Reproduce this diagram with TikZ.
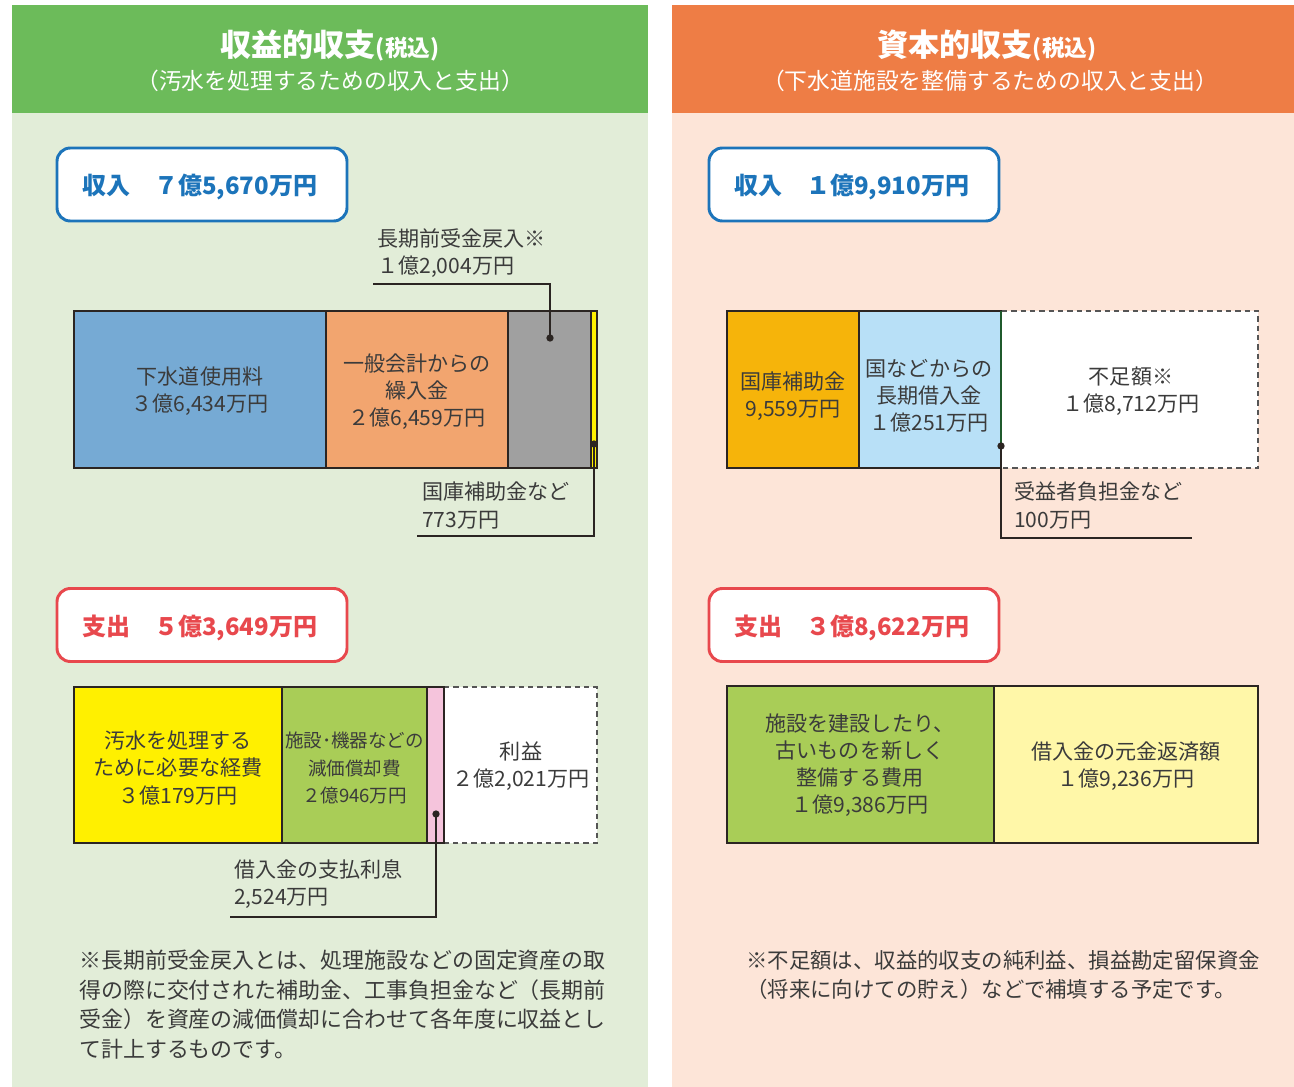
\documentclass[tikz,border=0pt]{standalone}
\usepackage{fontspec}
\setmainfont{Noto Sans CJK JP}
\newfontfamily\jp{Noto Sans CJK JP}
\definecolor{lhead}{HTML}{6CBB5A}
\definecolor{lbg}{HTML}{E2EDD8}
\definecolor{rhead}{HTML}{EE7D45}
\definecolor{rbg}{HTML}{FDE5D8}
\definecolor{cblue}{HTML}{76AAD4}
\definecolor{corange}{HTML}{F2A56F}
\definecolor{cgray}{HTML}{A0A0A0}
\definecolor{cyellow}{HTML}{FFF000}
\definecolor{cgold}{HTML}{F6B40A}
\definecolor{clblue}{HTML}{B8E0F7}
\definecolor{cgreen}{HTML}{A9CD57}
\definecolor{cpink}{HTML}{F5C4DC}
\definecolor{clyellow}{HTML}{FFF7A8}
\definecolor{cdkgreen}{HTML}{1F5A2C}
\definecolor{boxblue}{HTML}{1C74BA}
\definecolor{boxred}{HTML}{E8484D}
\definecolor{txt}{HTML}{3B3B3B}
\definecolor{barline}{HTML}{2B2522}
\definecolor{dashc}{HTML}{555555}
\begin{document}
\begin{tikzpicture}[x=0.75pt,y=-0.75pt,font=\jp,
  bar/.style={draw=barline,line width=1.5pt},
  lbl/.style={text=txt,font=\jp\fontsize{15.8}{20.3}\selectfont,align=center,inner sep=0pt},
  lbls/.style={text=txt,font=\jp\fontsize{13.9}{20.3}\selectfont,align=center,inner sep=0pt},
  lead/.style={draw=barline,line width=1.4pt},
  leaddot/.style={circle,fill=barline,inner sep=0pt,minimum size=5.5pt},
  dashbox/.style={draw=dashc,line width=1.1pt,dash pattern=on 4pt off 3pt},
  title/.style={text=white,font=\jp\bfseries\fontsize{23.3}{26}\selectfont,inner sep=0pt},
  subtitle/.style={text=white,font=\jp\fontsize{17.1}{20}\selectfont,inner sep=0pt},
  sumbox/.style={draw=#1,fill=white,line width=2.2pt,rounded corners=10pt,minimum width=217.5pt,minimum height=54.75pt,inner sep=0pt},
  sumtext/.style={text=#1,font=\jp\bfseries\fontsize{18}{20}\selectfont,inner sep=0pt,anchor=west},
  note/.style={text=txt,font=\jp\fontsize{16.45}{22.1}\selectfont,align=left,inner sep=0pt}
]
\useasboundingbox (0,0) rectangle (1294,1087);
\fill[white] (0,0) rectangle (1294,1087);
% panels
\fill[lbg] (12,5) rectangle (648,1087);
\fill[lhead] (12,5) rectangle (648,113);
\fill[rbg] (672,5) rectangle (1294,1087);
\fill[rhead] (672,5) rectangle (1294,113);
% titles
\node[title] (lt) at (330,46) {収益的収支{\fontsize{17}{17}\selectfont(税込)}};
\node[subtitle] (ls) at (330,81) {（汚水を処理するための収入と支出）};
\node[title] (rt) at (987,46) {資本的収支{\fontsize{17}{17}\selectfont(税込)}};
\node[subtitle] (rs) at (990,81) {（下水道施設を整備するための収入と支出）};
% summary boxes
\node[sumbox=boxblue] (linc) at (202,184.5) {};
\node[sumtext=boxblue] (lincT) at (82,187) {収入　７億5,670万円};
\node[sumbox=boxblue] (rinc) at (854,184.5) {};
\node[sumtext=boxblue] (rincT) at (734,187) {収入　１億9,910万円};
\node[sumbox=boxred] (lexp) at (202,625) {};
\node[sumtext=boxred] (lexpT) at (82,627.5) {支出　５億3,649万円};
\node[sumbox=boxred] (rexp) at (854,625) {};
\node[sumtext=boxred] (rexpT) at (734,627.5) {支出　３億8,622万円};

% ---- left income bar
\draw[bar,fill=cblue] (74,311) rectangle (326,468);
\draw[bar,fill=corange] (326,311) rectangle (508,468);
\draw[bar,fill=cgray] (508,311) rectangle (591,468);
\draw[barline,line width=1.1pt,fill=cyellow] (591,311) rectangle (597,468);
\node[lbl] (l1) at (200,391) {下水道使用料\\３億6,434万円};
\node[lbl] (l2) at (417,392) {一般会計からの\\繰入金\\２億6,459万円};
\node[leaddot] (d1) at (550,338) {};
\coordinate (k1) at (373,284);
\draw[lead] (d1.center) |- (k1);
\node[lbl,align=left,anchor=west] (t1) at (377,253) {長期前受金戻入※\\１億2,004万円};
\node[leaddot] (d2) at (594,444) {};
\coordinate (k2) at (417,536);
\draw[lead] (d2.center) |- (k2);
\node[lbl,align=left,anchor=west] (t2) at (422,505.5) {国庫補助金など\\773万円};

% ---- right income bar
\draw[bar,fill=cgold] (727,311) rectangle (859,468);
\draw[bar,fill=clblue] (859,311) rectangle (1001,468);
\fill[white] (1002,311) rectangle (1258,468);
\draw[dashbox] (1002,311) -| (1258,468) -- (1002,468);
\draw[cdkgreen,line width=2pt] (1001,311) -- (1001,468);
\node[lbl] (r1) at (793,396) {国庫補助金\\9,559万円};
\node[lbl] (r2) at (929,395.5) {国などからの\\長期借入金\\１億251万円};
\node[lbl] (r3) at (1131,391) {不足額※\\１億8,712万円};
\node[leaddot] (d4) at (1001,446) {};
\coordinate (k4) at (1192,538);
\draw[lead] (d4.center) |- (k4);
\node[lbl,align=left,anchor=west] (t4) at (1014,505.5) {受益者負担金など\\100万円};

% ---- left expense bar
\fill[white] (444,687) rectangle (597,843);
\draw[dashbox] (444,687) -| (597,843) -- (444,843);
\draw[bar,fill=cyellow] (74,687) rectangle (282,843);
\draw[bar,fill=cgreen] (282,687) rectangle (427,843);
\draw[bar,fill=cpink] (427,687) rectangle (444,843);
\node[lbl] (e1) at (178,768) {汚水を処理する\\ために必要な経費\\３億179万円};
\node[lbls] (e2) at (354.5,768) {施設･機器などの\\減価償却費\\２億946万円};
\node[lbl] (e3) at (521,766) {利益\\２億2,021万円};
\node[leaddot] (d3) at (436,814) {};
\coordinate (k3) at (230,917);
\draw[lead] (d3.center) |- (k3);
\node[lbl,align=left,anchor=west] (t3) at (234,884.5) {借入金の支払利息\\2,524万円};

% ---- right expense bar
\draw[bar,fill=cgreen] (727,686) rectangle (994,843);
\draw[bar,fill=clyellow] (994,686) rectangle (1258,843);
\node[lbl] (f1) at (860,765.5) {施設を建設したり、\\古いものを新しく\\整備する費用\\１億9,386万円};
\node[lbl] (f2) at (1126,766) {借入金の元金返済額\\１億9,236万円};

% ---- notes
\node[note,anchor=west] (nl) at (79,1004.5) {※長期前受金戻入とは、処理施設などの固定資産の取\\得の際に交付された補助金、工事負担金など（長期前\\受金）を資産の減価償却に合わせて各年度に収益とし\\て計上するものです。};
\node[note,anchor=west,font=\jp\fontsize{16.05}{22.1}\selectfont] (nr) at (746,975) {※不足額は、収益的収支の純利益、損益勘定留保資金\\（将来に向けての貯え）などで補填する予定です。};
\end{tikzpicture}
\end{document}
